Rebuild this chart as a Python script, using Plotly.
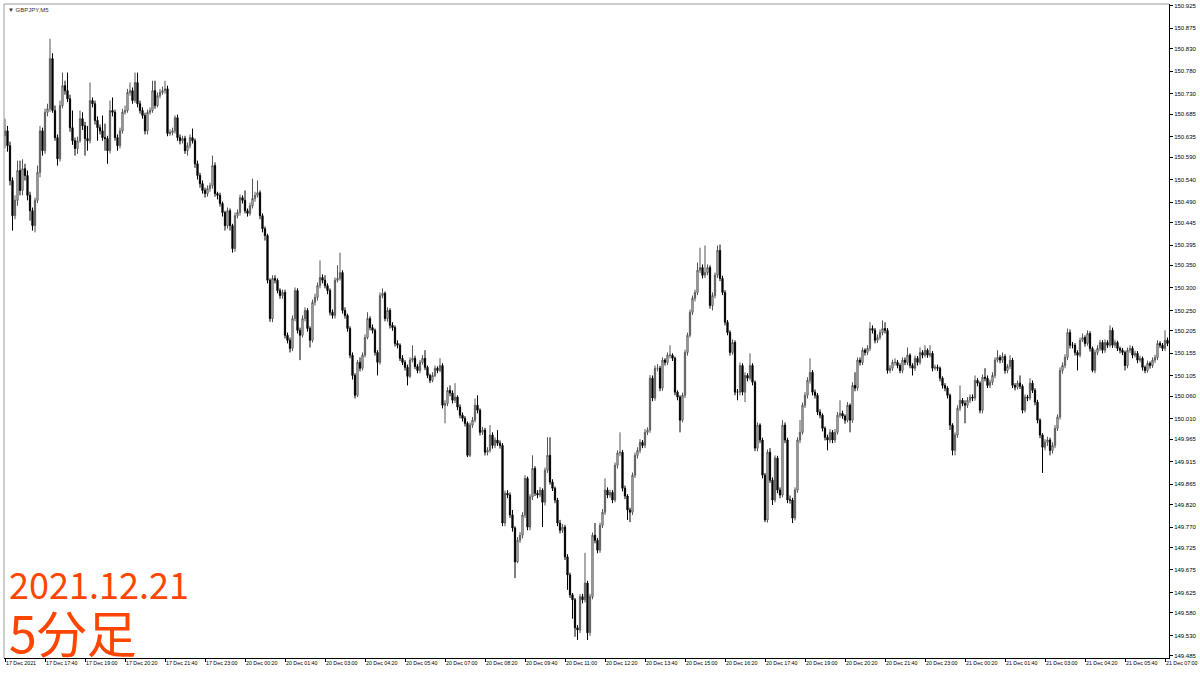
import plotly.graph_objects as go

# GBPJPY M5 bars, 17 Dec 2021 16:20 .. 21 Dec 2021 07:05
SYMBOL = "GBPJPY,M5"
FIRST_OPEN = 150.637

CLOSE = [
    150.648, 150.615, 150.538, 150.460, 150.494, 150.560, 150.516, 150.564, 150.549, 150.505,
    150.471, 150.438, 150.494, 150.556, 150.648, 150.604, 150.689, 150.697, 150.808, 150.693,
    150.633, 150.586, 150.704, 150.748, 150.737, 150.719, 150.655, 150.626, 150.609, 150.626,
    150.675, 150.659, 150.631, 150.626, 150.715, 150.708, 150.671, 150.655, 150.648, 150.633,
    150.631, 150.604, 150.693, 150.689, 150.633, 150.615, 150.648, 150.689, 150.693, 150.733,
    150.737, 150.715, 150.755, 150.708, 150.693, 150.682, 150.648, 150.689, 150.693, 150.737,
    150.704, 150.726, 150.733, 150.737, 150.741, 150.642, 150.644, 150.648, 150.677, 150.633,
    150.626, 150.631, 150.604, 150.615, 150.633, 150.626, 150.575, 150.549, 150.531, 150.516,
    150.509, 150.520, 150.527, 150.571, 150.509, 150.505, 150.487, 150.467, 150.438, 150.471,
    150.438, 150.387, 150.460, 150.467, 150.500, 150.494, 150.471, 150.465, 150.482, 150.498,
    150.505, 150.511, 150.460, 150.431, 150.416, 150.317, 150.232, 150.321, 150.317, 150.294,
    150.283, 150.290, 150.195, 150.184, 150.166, 150.232, 150.294, 150.206, 150.195, 150.232,
    150.250, 150.210, 150.184, 150.268, 150.279, 150.305, 150.323, 150.317, 150.305, 150.294,
    150.246, 150.239, 150.317, 150.321, 150.334, 150.250, 150.239, 150.210, 150.151, 150.106,
    150.062, 150.135, 150.122, 150.151, 150.190, 150.232, 150.212, 150.206, 150.157, 150.135,
    150.283, 150.288, 150.232, 150.250, 150.217, 150.212, 150.177, 150.173, 150.144, 150.135,
    150.124, 150.104, 150.140, 150.144, 150.126, 150.117, 150.135, 150.144, 150.124, 150.106,
    150.095, 150.106, 150.122, 150.117, 150.128, 150.040, 150.044, 150.073, 150.067, 150.051,
    150.058, 150.036, 150.018, 150.011, 150.000, 149.929, 149.996, 150.007, 150.040, 150.029,
    149.980, 149.985, 149.936, 149.940, 149.974, 149.951, 149.963, 149.956, 149.951, 149.779,
    149.845, 149.841, 149.797, 149.768, 149.693, 149.741, 149.752, 149.797, 149.878, 149.770,
    149.837, 149.900, 149.845, 149.841, 149.852, 149.825, 149.896, 149.929, 149.870, 149.856,
    149.830, 149.779, 149.763, 149.770, 149.704, 149.664, 149.620, 149.609, 149.547, 149.542,
    149.616, 149.609, 149.646, 149.536, 149.616, 149.752, 149.741, 149.719, 149.774, 149.803,
    149.852, 149.841, 149.847, 149.830, 149.907, 149.934, 149.936, 149.856, 149.839, 149.808,
    149.803, 149.885, 149.929, 149.940, 149.958, 149.951, 149.980, 149.985, 150.100, 150.056,
    150.122, 150.122, 150.078, 150.140, 150.135, 150.151, 150.151, 150.144, 150.069, 150.058,
    150.007, 150.062, 150.157, 150.195, 150.246, 150.277, 150.290, 150.339, 150.345, 150.328,
    150.334, 150.345, 150.261, 150.283, 150.328, 150.383, 150.321, 150.290, 150.224, 150.201,
    150.157, 150.179, 150.069, 150.069, 150.128, 150.069, 150.106, 150.100, 150.128, 150.091,
    149.945, 149.996, 149.963, 149.885, 149.786, 149.936, 149.874, 149.830, 149.923, 149.852,
    149.841, 149.996, 149.963, 149.830, 149.830, 149.790, 149.852, 149.963, 149.980, 150.040,
    150.062, 150.095, 150.113, 150.069, 150.062, 150.025, 150.018, 149.989, 149.969, 149.963,
    149.980, 149.963, 149.980, 150.018, 150.022, 150.016, 150.007, 150.040, 150.007, 150.084,
    150.078, 150.140, 150.135, 150.162, 150.157, 150.166, 150.210, 150.206, 150.184, 150.190,
    150.201, 150.210, 150.206, 150.117, 150.122, 150.135, 150.135, 150.128, 150.117, 150.140,
    150.135, 150.151, 150.128, 150.122, 150.144, 150.135, 150.157, 150.151, 150.162, 150.151,
    150.155, 150.122, 150.124, 150.122, 150.100, 150.084, 150.078, 150.062, 149.996, 149.940,
    149.974, 150.033, 150.051, 150.044, 150.040, 150.051, 150.058, 150.056, 150.095, 150.089,
    150.029, 150.102, 150.100, 150.084, 150.091, 150.106, 150.140, 150.146, 150.140, 150.148,
    150.117, 150.126, 150.140, 150.084, 150.080, 150.089, 150.082, 150.029, 150.058, 150.056,
    150.089, 150.073, 150.047, 150.007, 149.974, 149.947, 149.958, 149.963, 149.940, 149.951,
    149.989, 150.014, 150.117, 150.128, 150.146, 150.201, 150.173, 150.173, 150.157, 150.151,
    150.184, 150.190, 150.177, 150.199, 150.166, 150.117, 150.157, 150.166, 150.179, 150.162,
    150.179, 150.173, 150.206, 150.173, 150.179, 150.166, 150.162, 150.157, 150.128, 150.162,
    150.166, 150.151, 150.155, 150.140, 150.144, 150.124, 150.117, 150.133, 150.128, 150.140,
    150.146, 150.177, 150.173, 150.166, 150.184, 150.177,
]

HIGH = [
    150.675, 150.659, 150.624, 150.545, 150.505, 150.582, 150.582, 150.585, 150.575, 150.560,
    150.513, 150.478, 150.500, 150.571, 150.659, 150.655, 150.697, 150.708, 150.852, 150.820,
    150.704, 150.640, 150.715, 150.777, 150.759, 150.777, 150.728, 150.693, 150.633, 150.635,
    150.693, 150.689, 150.668, 150.659, 150.755, 150.722, 150.715, 150.680, 150.662, 150.682,
    150.664, 150.637, 150.715, 150.722, 150.695, 150.640, 150.655, 150.697, 150.704, 150.741,
    150.755, 150.744, 150.777, 150.777, 150.715, 150.700, 150.688, 150.695, 150.700, 150.759,
    150.759, 150.733, 150.741, 150.746, 150.759, 150.748, 150.651, 150.655, 150.682, 150.684,
    150.640, 150.637, 150.637, 150.622, 150.640, 150.653, 150.631, 150.582, 150.555, 150.538,
    150.522, 150.527, 150.533, 150.593, 150.578, 150.513, 150.511, 150.491, 150.471, 150.478,
    150.476, 150.442, 150.467, 150.474, 150.507, 150.505, 150.516, 150.476, 150.489, 150.542,
    150.513, 150.538, 150.516, 150.465, 150.436, 150.420, 150.321, 150.328, 150.328, 150.321,
    150.299, 150.296, 150.296, 150.201, 150.190, 150.239, 150.301, 150.299, 150.212, 150.239,
    150.257, 150.255, 150.215, 150.274, 150.287, 150.312, 150.361, 150.330, 150.328, 150.310,
    150.299, 150.252, 150.323, 150.350, 150.378, 150.339, 150.257, 150.243, 150.215, 150.157,
    150.111, 150.140, 150.146, 150.157, 150.197, 150.246, 150.237, 150.219, 150.210, 150.162,
    150.290, 150.299, 150.292, 150.257, 150.255, 150.224, 150.217, 150.184, 150.177, 150.151,
    150.140, 150.130, 150.146, 150.173, 150.150, 150.131, 150.140, 150.151, 150.162, 150.128,
    150.110, 150.113, 150.128, 150.126, 150.144, 150.133, 150.051, 150.080, 150.084, 150.073,
    150.089, 150.062, 150.042, 150.024, 150.016, 150.004, 150.002, 150.014, 150.055, 150.062,
    150.033, 149.992, 149.990, 149.947, 149.996, 149.980, 149.969, 149.985, 149.962, 149.956,
    149.851, 149.852, 149.847, 149.808, 149.772, 149.748, 149.759, 149.803, 149.885, 149.882,
    149.843, 149.929, 149.905, 149.852, 149.859, 149.856, 149.902, 149.969, 149.969, 149.876,
    149.860, 149.835, 149.786, 149.777, 149.775, 149.710, 149.669, 149.624, 149.613, 149.553,
    149.622, 149.622, 149.713, 149.651, 149.622, 149.758, 149.779, 149.746, 149.780, 149.810,
    149.878, 149.858, 149.853, 149.852, 149.913, 149.940, 149.980, 149.941, 149.862, 149.843,
    149.813, 149.891, 149.935, 149.947, 149.965, 149.963, 149.987, 149.991, 150.107, 150.106,
    150.128, 150.131, 150.127, 150.146, 150.144, 150.157, 150.173, 150.155, 150.148, 150.073,
    150.062, 150.068, 150.163, 150.201, 150.252, 150.283, 150.296, 150.356, 150.389, 150.352,
    150.394, 150.352, 150.350, 150.290, 150.334, 150.394, 150.396, 150.327, 150.295, 150.229,
    150.206, 150.186, 150.184, 150.076, 150.135, 150.133, 150.113, 150.111, 150.155, 150.133,
    150.095, 150.002, 150.000, 149.968, 149.890, 149.942, 149.945, 149.880, 149.929, 149.928,
    149.858, 150.007, 150.002, 149.968, 149.840, 149.835, 149.858, 149.969, 150.007, 150.046,
    150.069, 150.102, 150.144, 150.118, 150.075, 150.067, 150.031, 150.022, 149.993, 149.975,
    149.987, 149.985, 149.987, 150.025, 150.051, 150.028, 150.020, 150.047, 150.044, 150.091,
    150.113, 150.146, 150.146, 150.168, 150.166, 150.173, 150.224, 150.217, 150.211, 150.197,
    150.208, 150.228, 150.224, 150.211, 150.129, 150.141, 150.144, 150.140, 150.133, 150.146,
    150.146, 150.168, 150.155, 150.133, 150.150, 150.149, 150.168, 150.162, 150.173, 150.166,
    150.173, 150.160, 150.130, 150.130, 150.126, 150.104, 150.089, 150.082, 150.066, 150.000,
    149.980, 150.040, 150.084, 150.056, 150.051, 150.058, 150.064, 150.064, 150.106, 150.100,
    150.093, 150.108, 150.122, 150.106, 150.097, 150.113, 150.146, 150.162, 150.151, 150.157,
    150.153, 150.131, 150.151, 150.145, 150.089, 150.095, 150.106, 150.086, 150.064, 150.063,
    150.100, 150.095, 150.078, 150.052, 150.011, 149.978, 149.965, 149.970, 149.968, 149.958,
    149.996, 150.020, 150.124, 150.135, 150.153, 150.210, 150.208, 150.180, 150.178, 150.162,
    150.190, 150.199, 150.195, 150.206, 150.204, 150.170, 150.163, 150.173, 150.185, 150.184,
    150.186, 150.184, 150.217, 150.212, 150.185, 150.183, 150.170, 150.167, 150.161, 150.168,
    150.173, 150.171, 150.161, 150.160, 150.150, 150.148, 150.128, 150.139, 150.137, 150.146,
    150.152, 150.184, 150.182, 150.178, 150.206, 150.190,
]

LOW = [
    150.610, 150.602, 150.527, 150.427, 150.452, 150.482, 150.505, 150.505, 150.538, 150.494,
    150.449, 150.427, 150.423, 150.488, 150.545, 150.593, 150.597, 150.680, 150.690, 150.688,
    150.626, 150.571, 150.580, 150.698, 150.728, 150.712, 150.646, 150.617, 150.593, 150.597,
    150.622, 150.650, 150.593, 150.604, 150.620, 150.700, 150.662, 150.626, 150.640, 150.626,
    150.604, 150.575, 150.598, 150.680, 150.626, 150.604, 150.609, 150.642, 150.684, 150.688,
    150.726, 150.708, 150.710, 150.700, 150.686, 150.675, 150.640, 150.640, 150.684, 150.688,
    150.697, 150.700, 150.720, 150.728, 150.730, 150.636, 150.637, 150.638, 150.642, 150.626,
    150.618, 150.620, 150.597, 150.593, 150.609, 150.620, 150.566, 150.540, 150.522, 150.509,
    150.500, 150.502, 150.513, 150.520, 150.502, 150.496, 150.480, 150.458, 150.427, 150.431,
    150.427, 150.378, 150.380, 150.454, 150.460, 150.487, 150.465, 150.458, 150.460, 150.476,
    150.491, 150.500, 150.452, 150.423, 150.405, 150.310, 150.225, 150.224, 150.310, 150.288,
    150.276, 150.276, 150.188, 150.177, 150.157, 150.160, 150.226, 150.199, 150.140, 150.190,
    150.226, 150.203, 150.168, 150.179, 150.261, 150.272, 150.299, 150.310, 150.299, 150.286,
    150.239, 150.232, 150.232, 150.312, 150.316, 150.243, 150.232, 150.203, 150.144, 150.097,
    150.055, 150.058, 150.115, 150.117, 150.146, 150.186, 150.206, 150.199, 150.150, 150.106,
    150.130, 150.277, 150.226, 150.225, 150.210, 150.205, 150.170, 150.166, 150.138, 150.129,
    150.117, 150.084, 150.100, 150.135, 150.120, 150.111, 150.111, 150.130, 150.118, 150.100,
    150.089, 150.091, 150.102, 150.111, 150.113, 150.033, 150.000, 150.038, 150.060, 150.044,
    150.045, 150.029, 150.011, 150.004, 149.993, 149.925, 149.925, 149.990, 150.002, 150.022,
    149.973, 149.974, 149.929, 149.929, 149.935, 149.944, 149.945, 149.950, 149.944, 149.772,
    149.772, 149.834, 149.790, 149.760, 149.657, 149.690, 149.735, 149.745, 149.790, 149.763,
    149.763, 149.830, 149.839, 149.834, 149.836, 149.770, 149.818, 149.890, 149.864, 149.850,
    149.823, 149.772, 149.756, 149.757, 149.697, 149.631, 149.613, 149.567, 149.527, 149.520,
    149.535, 149.601, 149.603, 149.520, 149.529, 149.610, 149.734, 149.712, 149.713, 149.768,
    149.797, 149.834, 149.835, 149.823, 149.825, 149.900, 149.927, 149.849, 149.832, 149.786,
    149.781, 149.797, 149.879, 149.922, 149.934, 149.945, 149.945, 149.974, 149.979, 150.049,
    150.050, 150.115, 150.071, 150.072, 150.128, 150.129, 150.144, 150.138, 150.062, 150.051,
    149.980, 150.002, 150.056, 150.150, 150.190, 150.240, 150.270, 150.284, 150.333, 150.321,
    150.322, 150.328, 150.254, 150.250, 150.277, 150.322, 150.315, 150.284, 150.217, 150.195,
    150.150, 150.152, 150.062, 150.051, 150.062, 150.062, 150.047, 150.093, 150.095, 150.084,
    149.938, 149.938, 149.956, 149.878, 149.781, 149.780, 149.868, 149.819, 149.825, 149.845,
    149.834, 149.836, 149.956, 149.823, 149.822, 149.779, 149.785, 149.846, 149.956, 149.975,
    150.034, 150.055, 150.088, 150.062, 150.055, 150.018, 150.011, 149.982, 149.962, 149.940,
    149.956, 149.956, 149.957, 149.975, 150.012, 150.010, 149.999, 150.002, 149.980, 150.001,
    150.071, 150.072, 150.128, 150.129, 150.150, 150.151, 150.160, 150.199, 150.177, 150.178,
    150.185, 150.195, 150.199, 150.110, 150.111, 150.116, 150.128, 150.122, 150.111, 150.111,
    150.129, 150.129, 150.122, 150.106, 150.116, 150.128, 150.130, 150.144, 150.146, 150.145,
    150.146, 150.115, 150.117, 150.116, 150.093, 150.077, 150.071, 150.055, 149.985, 149.929,
    149.929, 149.968, 150.027, 150.038, 150.000, 150.034, 150.045, 150.049, 150.050, 150.082,
    150.022, 150.022, 150.093, 150.078, 150.078, 150.085, 150.100, 150.135, 150.133, 150.134,
    150.110, 150.111, 150.120, 150.078, 150.073, 150.075, 150.076, 150.022, 150.024, 150.049,
    150.051, 150.067, 150.040, 150.000, 149.967, 149.890, 149.940, 149.950, 149.929, 149.933,
    149.945, 149.983, 150.008, 150.110, 150.122, 150.140, 150.166, 150.166, 150.150, 150.117,
    150.146, 150.180, 150.170, 150.172, 150.159, 150.113, 150.111, 150.151, 150.160, 150.155,
    150.156, 150.167, 150.168, 150.167, 150.167, 150.160, 150.155, 150.151, 150.117, 150.122,
    150.156, 150.144, 150.146, 150.133, 150.135, 150.117, 150.111, 150.112, 150.121, 150.123,
    150.134, 150.140, 150.167, 150.160, 150.160, 150.171,
]

# FX feed is continuous: every bar opens where the previous one closed
OPEN = [FIRST_OPEN] + CLOSE[:-1]

# time labels, one every 16 bars (80 minutes), as printed by the terminal
X_LABELS = [
    "17 Dec 2021", "17 Dec 17:40", "17 Dec 19:00", "17 Dec 20:20", "17 Dec 21:40",
    "17 Dec 23:00", "20 Dec 00:20", "20 Dec 01:40", "20 Dec 03:00", "20 Dec 04:20",
    "20 Dec 05:40", "20 Dec 07:00", "20 Dec 08:20", "20 Dec 09:40", "20 Dec 11:00",
    "20 Dec 12:20", "20 Dec 13:40", "20 Dec 15:00", "20 Dec 16:20", "20 Dec 17:40",
    "20 Dec 19:00", "20 Dec 20:20", "20 Dec 21:40", "20 Dec 23:00", "21 Dec 00:20",
    "21 Dec 01:40", "21 Dec 03:00", "21 Dec 04:20", "21 Dec 05:40", "21 Dec 07:00",
]
Y_LABELS = [
    "149.485", "149.530", "149.580", "149.625", "149.675", "149.725", "149.770", "149.820",
    "149.865", "149.915", "149.965", "150.010", "150.060", "150.105", "150.155", "150.205",
    "150.250", "150.300", "150.350", "150.395", "150.445", "150.490", "150.540", "150.590",
    "150.635", "150.685", "150.730", "150.780", "150.830", "150.875", "150.925",
]

n = min(len(CLOSE), len(HIGH), len(LOW))
bars = list(range(n))

fig = go.Figure()
fig.add_trace(go.Candlestick(
    x=bars,
    open=OPEN[:n], high=HIGH[:n], low=LOW[:n], close=CLOSE[:n],
    increasing=dict(line=dict(color="#555555", width=1), fillcolor="#ffffff"),
    decreasing=dict(line=dict(color="#000000", width=1), fillcolor="#000000"),
    whiskerwidth=0,
    showlegend=False,
))

fig.update_layout(
    width=1200,
    height=675,
    paper_bgcolor="#ffffff",
    plot_bgcolor="#ffffff",
    margin=dict(l=4, r=31, t=4, b=17),
    xaxis=dict(
        range=[-0.4, n - 0.4],
        rangeslider=dict(visible=False),
        tickvals=[16 * k for k in range(len(X_LABELS))],
        ticktext=X_LABELS,
        tickangle=0,
        ticklabelposition="outside right",
        ticks="outside", ticklen=3, tickcolor="#000000",
        showline=True, linecolor="#000000", linewidth=1,
        showgrid=False, zeroline=False,
        automargin=False,
        tickfont=dict(family="Liberation Sans", size=5.3, color="#000000"),
    ),
    yaxis=dict(
        side="right",
        range=[149.480, 150.929],
        tickvals=[float(v) for v in Y_LABELS],
        ticktext=Y_LABELS,
        ticks="outside", ticklen=3, tickcolor="#000000",
        ticklabeloverflow="allow",
        showline=True, linecolor="#000000", linewidth=1,
        showgrid=False, zeroline=False,
        automargin=False,
        tickfont=dict(family="Liberation Sans", size=6, color="#000000"),
    ),
    shapes=[
        dict(type="line", xref="paper", yref="paper", x0=0, x1=0, y0=0, y1=1,
             line=dict(color="#9a9a9a", width=1)),
        dict(type="line", xref="paper", yref="paper", x0=0, x1=1, y0=1, y1=1,
             line=dict(color="#9a9a9a", width=1)),
    ],
    annotations=[
        dict(text="▼ " + SYMBOL, xref="paper", yref="paper", x=0.002, y=0.998,
             xanchor="left", yanchor="top", showarrow=False,
             font=dict(family="Liberation Sans", size=6, color="#333333")),
        dict(text="2021.12.21", xref="paper", yref="paper", x=0.0025, y=0.115,
             xanchor="left", yanchor="middle", showarrow=False,
             font=dict(family="Noto Sans CJK JP", size=36, color="#ff4500")),
        dict(text="5分足", xref="paper", yref="paper", x=0.0025, y=0.042,
             xanchor="left", yanchor="middle", showarrow=False,
             font=dict(family="Noto Sans CJK JP", size=50, color="#ff4500")),
    ],
)

# the page is photographed at the window origin, so drop the default body margin
fig.write_html(
    "out.html",
    config={"displayModeBar": False},
    post_script="document.body.style.margin = '0';",
)
